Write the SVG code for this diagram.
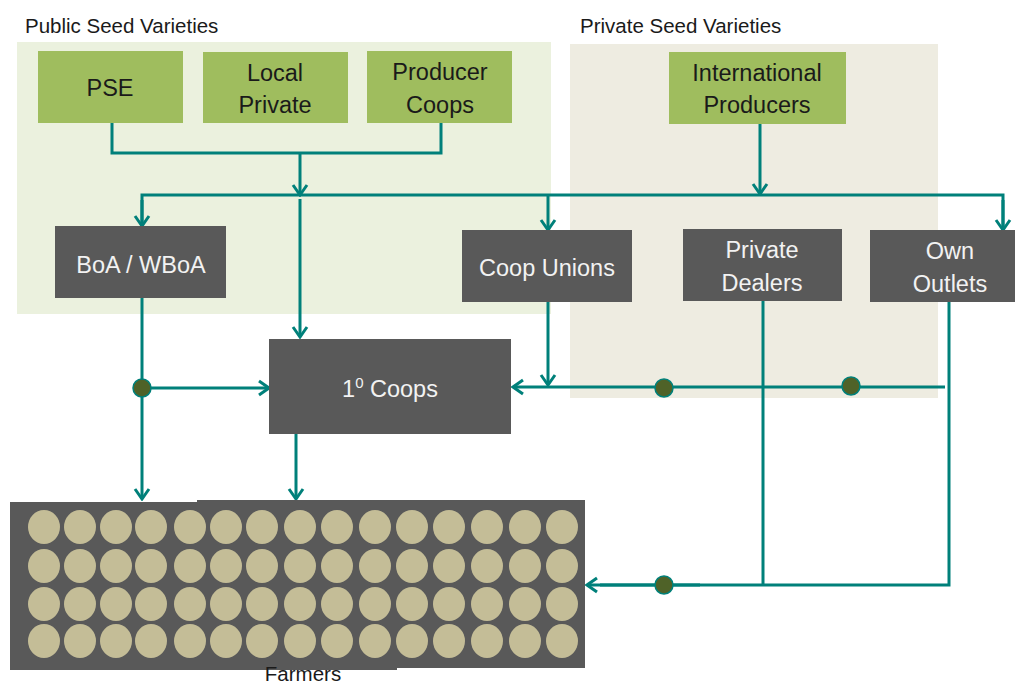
<svg xmlns="http://www.w3.org/2000/svg" width="1015" height="685" viewBox="0 0 1015 685">
<style>
.title{font-family:"Liberation Sans",Arial,sans-serif;font-size:20.5px;fill:#1a1a1a}
.g{fill:#9FBD5E}
.d{fill:#595959}
.gt{font-family:"Liberation Sans",Arial,sans-serif;font-size:23.5px;fill:#1a1a1a;text-anchor:middle}
.dt{font-family:"Liberation Sans",Arial,sans-serif;font-size:23.5px;fill:#f2f2f2;text-anchor:middle}
.c{fill:none;stroke:#00807A;stroke-width:3}
.a{marker-end:url(#arr)}
.dot{fill:#4F6228;stroke:#00807A;stroke-width:1.5}
.f{fill:#C4BD97}
</style>
<defs>
<marker id="arr" markerUnits="userSpaceOnUse" viewBox="0 0 14 18" markerWidth="14" markerHeight="18" refX="12" refY="9" orient="auto">
<path d="M2,2 L12,9 L2,16" fill="none" stroke="#00807A" stroke-width="3"/>
</marker>
</defs>
<rect x="17" y="42" width="534" height="272" fill="#EBF1DE"/>
<rect x="570" y="44" width="368" height="354" fill="#EEECE1"/>
<text class="title" x="25" y="33">Public Seed Varieties</text>
<text class="title" x="580" y="33">Private Seed Varieties</text>
<g id="connectors">
<polyline class="c" points="112,123 112,153 441,153 441,123"/>
<line class="c a" x1="300" y1="153" x2="300" y2="195"/>
<polyline class="c" points="142,222 142,195 1003,195 1003,228"/>
<line class="c a" x1="142" y1="200" x2="142" y2="226"/>
<line class="c a" x1="548" y1="195" x2="548" y2="230"/>
<line class="c a" x1="1003" y1="200" x2="1003" y2="230"/>
<line class="c a" x1="760" y1="124" x2="760" y2="194"/>
<line class="c a" x1="300" y1="199" x2="300" y2="337"/>
<line class="c a" x1="142" y1="298" x2="142" y2="499"/>
<line class="c a" x1="142" y1="388" x2="269" y2="388"/>
<line class="c a" x1="296" y1="434" x2="296" y2="499"/>
<line class="c a" x1="548" y1="302" x2="548" y2="385"/>
<line class="c a" x1="945" y1="387" x2="513" y2="387"/>
<line class="c" x1="763" y1="301" x2="763" y2="586"/>
<polyline class="c" points="949,302 949,585 600,585"/>
<line class="c a" x1="700" y1="585" x2="587" y2="585"/>
<circle class="dot" cx="142" cy="388" r="9"/>
<circle class="dot" cx="664" cy="388" r="9"/>
<circle class="dot" cx="851" cy="386" r="9"/>
<circle class="dot" cx="664" cy="585" r="9"/>
</g>
<g id="pse"><rect class="g" x="38" y="51" width="145" height="72"/><text class="gt" x="110" y="96">PSE</text></g>
<g id="local-private"><rect class="g" x="203" y="52" width="145" height="71"/><text class="gt" x="275" y="81">Local</text><text class="gt" x="275" y="113">Private</text></g>
<g id="producer-coops"><rect class="g" x="367" y="51" width="145" height="72"/><text class="gt" x="440" y="80">Producer</text><text class="gt" x="440" y="113">Coops</text></g>
<g id="international-producers"><rect class="g" x="669" y="52" width="177" height="72"/><text class="gt" x="757" y="81">International</text><text class="gt" x="757" y="113">Producers</text></g>
<g id="boa"><rect class="d" x="55" y="226" width="171" height="72"/><text class="dt" x="141" y="273">BoA / WBoA</text></g>
<g id="coop-unions"><rect class="d" x="462" y="230" width="170" height="72"/><text class="dt" x="547" y="276">Coop Unions</text></g>
<g id="private-dealers"><rect class="d" x="683" y="229" width="159" height="72"/><text class="dt" x="762" y="258">Private</text><text class="dt" x="762" y="291">Dealers</text></g>
<g id="own-outlets"><rect class="d" x="870" y="230" width="145" height="72"/><text class="dt" x="950" y="259">Own</text><text class="dt" x="950" y="292">Outlets</text></g>
<g id="primary-coops"><rect class="d" x="269" y="339" width="242" height="95"/><text class="dt" x="390" y="397">1<tspan dy="-9" font-size="15">0</tspan><tspan dy="9"> Coops</tspan></text></g>
<g id="farmers">
<rect class="d" x="10" y="502" width="387" height="168"/>
<rect class="d" x="197" y="500" width="388" height="168"/>
<g class="f">
<ellipse cx="44" cy="527" rx="16" ry="17"/><ellipse cx="80" cy="527" rx="16" ry="17"/><ellipse cx="116" cy="527" rx="16" ry="17"/><ellipse cx="151" cy="527" rx="16" ry="17"/><ellipse cx="190" cy="527" rx="16" ry="17"/><ellipse cx="226" cy="527" rx="16" ry="17"/><ellipse cx="262" cy="527" rx="16" ry="17"/><ellipse cx="300" cy="527" rx="16" ry="17"/><ellipse cx="337" cy="527" rx="16" ry="17"/><ellipse cx="375" cy="527" rx="16" ry="17"/><ellipse cx="412" cy="527" rx="16" ry="17"/><ellipse cx="449" cy="527" rx="16" ry="17"/><ellipse cx="487" cy="527" rx="16" ry="17"/><ellipse cx="525" cy="527" rx="16" ry="17"/><ellipse cx="562" cy="527" rx="16" ry="17"/>
<ellipse cx="44" cy="566" rx="16" ry="17"/><ellipse cx="80" cy="566" rx="16" ry="17"/><ellipse cx="116" cy="566" rx="16" ry="17"/><ellipse cx="151" cy="566" rx="16" ry="17"/><ellipse cx="190" cy="566" rx="16" ry="17"/><ellipse cx="226" cy="566" rx="16" ry="17"/><ellipse cx="262" cy="566" rx="16" ry="17"/><ellipse cx="300" cy="566" rx="16" ry="17"/><ellipse cx="337" cy="566" rx="16" ry="17"/><ellipse cx="375" cy="566" rx="16" ry="17"/><ellipse cx="412" cy="566" rx="16" ry="17"/><ellipse cx="449" cy="566" rx="16" ry="17"/><ellipse cx="487" cy="566" rx="16" ry="17"/><ellipse cx="525" cy="566" rx="16" ry="17"/><ellipse cx="562" cy="566" rx="16" ry="17"/>
<ellipse cx="44" cy="604" rx="16" ry="17"/><ellipse cx="80" cy="604" rx="16" ry="17"/><ellipse cx="116" cy="604" rx="16" ry="17"/><ellipse cx="151" cy="604" rx="16" ry="17"/><ellipse cx="190" cy="604" rx="16" ry="17"/><ellipse cx="226" cy="604" rx="16" ry="17"/><ellipse cx="262" cy="604" rx="16" ry="17"/><ellipse cx="300" cy="604" rx="16" ry="17"/><ellipse cx="337" cy="604" rx="16" ry="17"/><ellipse cx="375" cy="604" rx="16" ry="17"/><ellipse cx="412" cy="604" rx="16" ry="17"/><ellipse cx="449" cy="604" rx="16" ry="17"/><ellipse cx="487" cy="604" rx="16" ry="17"/><ellipse cx="525" cy="604" rx="16" ry="17"/><ellipse cx="562" cy="604" rx="16" ry="17"/>
<ellipse cx="44" cy="641" rx="16" ry="17"/><ellipse cx="80" cy="641" rx="16" ry="17"/><ellipse cx="116" cy="641" rx="16" ry="17"/><ellipse cx="151" cy="641" rx="16" ry="17"/><ellipse cx="190" cy="641" rx="16" ry="17"/><ellipse cx="226" cy="641" rx="16" ry="17"/><ellipse cx="262" cy="641" rx="16" ry="17"/><ellipse cx="300" cy="641" rx="16" ry="17"/><ellipse cx="337" cy="641" rx="16" ry="17"/><ellipse cx="375" cy="641" rx="16" ry="17"/><ellipse cx="412" cy="641" rx="16" ry="17"/><ellipse cx="449" cy="641" rx="16" ry="17"/><ellipse cx="487" cy="641" rx="16" ry="17"/><ellipse cx="525" cy="641" rx="16" ry="17"/><ellipse cx="562" cy="641" rx="16" ry="17"/>
</g>
<text class="title" x="303" y="681" text-anchor="middle" font-size="19">Farmers</text>
</g>
</svg>
